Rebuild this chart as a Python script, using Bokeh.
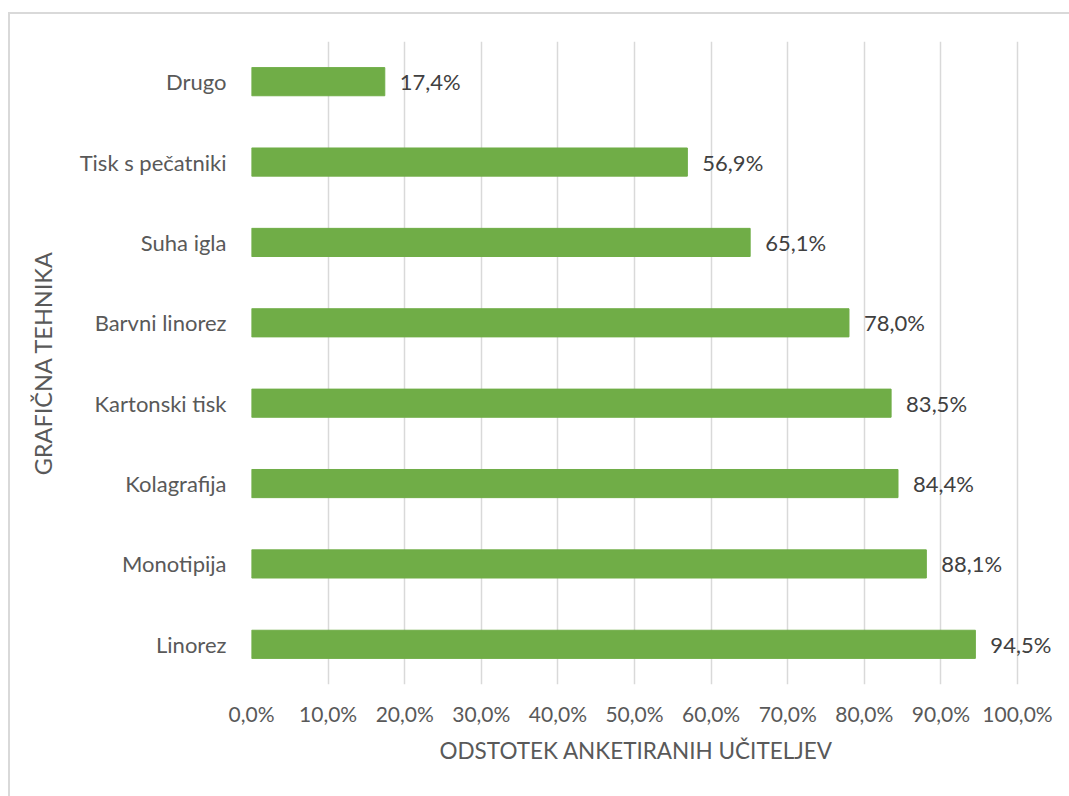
from bokeh.plotting import figure
from bokeh.models import ColumnDataSource, FixedTicker, CustomJSTickFormatter, Range1d, Title
from bokeh.core.properties import value
from bokeh.embed import file_html
from bokeh.resources import INLINE

categories = ["Linorez", "Monotipija", "Kolagrafija", "Kartonski tisk",
              "Barvni linorez", "Suha igla", "Tisk s pečatniki", "Drugo"]
values = [94.5, 88.1, 84.4, 83.5, 78.0, 65.1, 56.9, 17.4]
labels = ["94,5%", "88,1%", "84,4%", "83,5%", "78,0%", "65,1%", "56,9%", "17,4%"]
x_ticks = [0, 10, 20, 30, 40, 50, 60, 70, 80, 90, 100]
x_title = "ODSTOTEK ANKETIRANIH UČITELJEV"
y_title = "GRAFIČNA TEHNIKA"

FONT = "Lato"
TXT = "#595959"

src = ColumnDataSource(dict(cat=categories, val=values, lab=labels))

p = figure(width=1061, height=784, y_range=categories, x_range=Range1d(0, 107.05),
           output_backend="svg", toolbar_location=None,
           min_border_left=241, min_border_top=27, min_border_right=0, min_border_bottom=114,
           margin=(12, 0, 0, 8),
           styles={"border-left": "2px solid #D9D9D9", "border-top": "2px solid #D9D9D9"})
p.outline_line_color = None

p.hbar(y="cat", right="val", left=0, height=0.35, color="#70AD47", source=src)
p.text(x="val", y="cat", text="lab", source=src, x_offset=15,
       text_font=value(FONT), text_font_size="22px", text_color="#404040",
       text_baseline="middle", text_align="left")

p.xaxis.ticker = FixedTicker(ticks=x_ticks)
p.xaxis.formatter = CustomJSTickFormatter(code="return tick.toFixed(1).replace('.', ',') + '%';")
p.xaxis.axis_line_color = None
p.xaxis.major_tick_line_color = None
p.xaxis.minor_tick_line_color = None
p.xaxis.major_label_text_font = FONT
p.xaxis.major_label_text_font_size = "21px"
p.xaxis.major_label_text_color = TXT
p.xaxis.major_label_standoff = 10

# x-axis title, placed so it is centred under the 0-100 % span
p.add_layout(Title(text=x_title, align="left", offset=188, standoff=12,
                   text_font=FONT, text_font_size="22.5px", text_font_style="normal",
                   text_color=TXT), "below")

p.yaxis.axis_line_color = None
p.yaxis.major_tick_line_color = None
p.yaxis.minor_tick_line_color = None
p.yaxis.major_label_text_font = FONT
p.yaxis.major_label_text_font_size = "22px"
p.yaxis.major_label_text_color = TXT
p.yaxis.major_label_standoff = 19
p.yaxis.axis_label = y_title
p.yaxis.axis_label_text_font = FONT
p.yaxis.axis_label_text_font_size = "23.5px"
p.yaxis.axis_label_text_font_style = "normal"
p.yaxis.axis_label_text_color = TXT
p.yaxis.axis_label_standoff = 20

p.xgrid.grid_line_color = "#D9D9D9"
p.xgrid.grid_line_width = 1.5
p.ygrid.grid_line_color = None

open("out.html", "w").write(file_html(p, INLINE))
